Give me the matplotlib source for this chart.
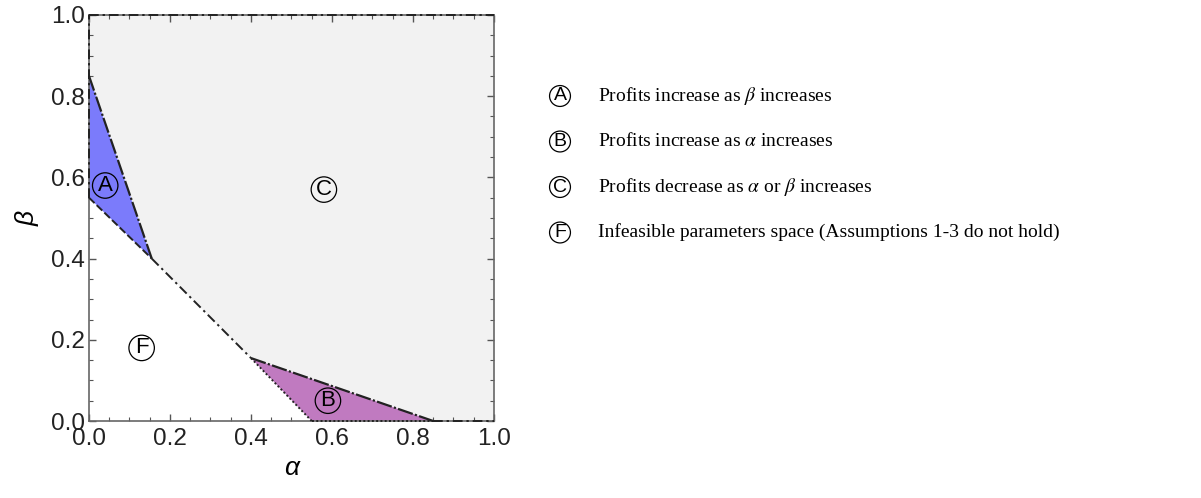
import matplotlib
matplotlib.use("Agg")
import matplotlib.pyplot as plt
from matplotlib.patches import Polygon
import matplotlib.ticker as ticker

# region vertices (alpha, beta)
REGION_A = [(0.0, 0.85), (0.0, 0.55), (0.155, 0.40)]
REGION_B = [(0.40, 0.155), (0.55, 0.0), (0.85, 0.0)]
REGION_C = [(0.0, 0.85), (0.0, 1.0), (1.0, 1.0), (1.0, 0.0),
            (0.85, 0.0), (0.40, 0.155), (0.155, 0.40)]

# boundary segment between A and B
FEAS_LINE = [(0.155, 0.40), (0.40, 0.155)]

# region labels
LABELS = ["A", "B", "C", "F"]
LABEL_POS = [(0.04, 0.58), (0.59, 0.05), (0.58, 0.57), (0.13, 0.18)]

LEGEND_TEXT = [
    r"Profits increase as $\beta$ increases",
    r"Profits increase as $\alpha$ increases",
    r"Profits decrease as $\alpha$ or $\beta$ increases",
    r"Infeasible parameters space (Assumptions 1-3 do not hold)",
]

COL_A = "#7b7bfb"
COL_B = "#c07ac0"
COL_C = "#f2f2f2"
LINE_COL = "#222222"

plt.rcParams["mathtext.fontset"] = "stix"

fig = plt.figure(figsize=(12.01, 4.98), dpi=100)
ax = fig.add_axes([0.0741, 0.1546, 0.3372, 0.8153])

ax.add_patch(Polygon(REGION_C, closed=True, facecolor=COL_C, edgecolor="none", zorder=1))
ax.add_patch(Polygon(REGION_A, closed=True, facecolor=COL_A, edgecolor="none", zorder=2))
ax.add_patch(Polygon(REGION_B, closed=True, facecolor=COL_B, edgecolor="none", zorder=2))


def seg(p, q, dashes, lw=1.4):
    ax.plot([p[0], q[0]], [p[1], q[1]], color=LINE_COL, lw=lw,
            dashes=dashes, zorder=3, solid_capstyle="butt", clip_on=False)


DENSE = (7, 1, 1, 1)
DASHDOT = (5, 2, 1.2, 2)
seg(REGION_A[0], REGION_A[2], DENSE, 1.6)
seg(REGION_A[1], REGION_A[2], (4, 1.5))
seg(FEAS_LINE[0], FEAS_LINE[1], DASHDOT)
seg(REGION_B[0], REGION_B[2], DENSE, 1.6)
seg(REGION_B[0], REGION_B[1], (1, 1.2))
seg(REGION_B[1], REGION_B[2], (1, 1.2))
seg(REGION_B[2], (1.0, 0.0), DASHDOT)
seg(REGION_A[1], (0.0, 1.0), DASHDOT)
seg((0.0, 1.0), (1.0, 1.0), DASHDOT)

for lab, (x, y) in zip(LABELS, LABEL_POS):
    ax.text(x, y, lab, ha="center", va="center", fontsize=16,
            family="Liberation Sans", color="black", zorder=5,
            bbox=dict(boxstyle="circle,pad=0.1", fc="none", ec="black", lw=0.9))

ax.set_xlim(0, 1)
ax.set_ylim(0, 1)
ax.xaxis.set_major_locator(ticker.MultipleLocator(0.2))
ax.yaxis.set_major_locator(ticker.MultipleLocator(0.2))
ax.xaxis.set_minor_locator(ticker.MultipleLocator(0.05))
ax.yaxis.set_minor_locator(ticker.MultipleLocator(0.05))
ax.xaxis.set_major_formatter(ticker.FormatStrFormatter("%.1f"))
ax.yaxis.set_major_formatter(ticker.FormatStrFormatter("%.1f"))
ax.tick_params(which="both", direction="in", top=True, right=True,
               color="#555555", labelsize=17.5, labelcolor="#222222")
ax.tick_params(axis="x", pad=5)
ax.tick_params(axis="y", pad=3)
ax.tick_params(which="major", length=5, width=1)
ax.tick_params(which="minor", length=3, width=0.8)
for lbl in ax.get_xticklabels() + ax.get_yticklabels():
    lbl.set_family("Liberation Sans")
for s in ax.spines.values():
    s.set_color("#666666")
    s.set_linewidth(1.2)

ax.set_xlabel("α", fontsize=19, family="Liberation Sans", style="italic", labelpad=4)
ax.set_ylabel("β", fontsize=19, family="Liberation Sans", style="italic", labelpad=8)

# legend on the right
y0 = 96
dy = 45.5
for i, (lab, txt) in enumerate(zip(LABELS, LEGEND_TEXT)):
    yp = 1 - (y0 + i * dy) / 498
    fig.text(560 / 1201, yp, lab, ha="center", va="center", fontsize=14,
             family="Liberation Sans",
             bbox=dict(boxstyle="circle,pad=0.1", fc="none", ec="black", lw=0.9))
    fig.text(598 / 1201, yp, txt, ha="left", va="center", fontsize=14,
             family="Liberation Serif")

fig.savefig("out.png", dpi=100)
